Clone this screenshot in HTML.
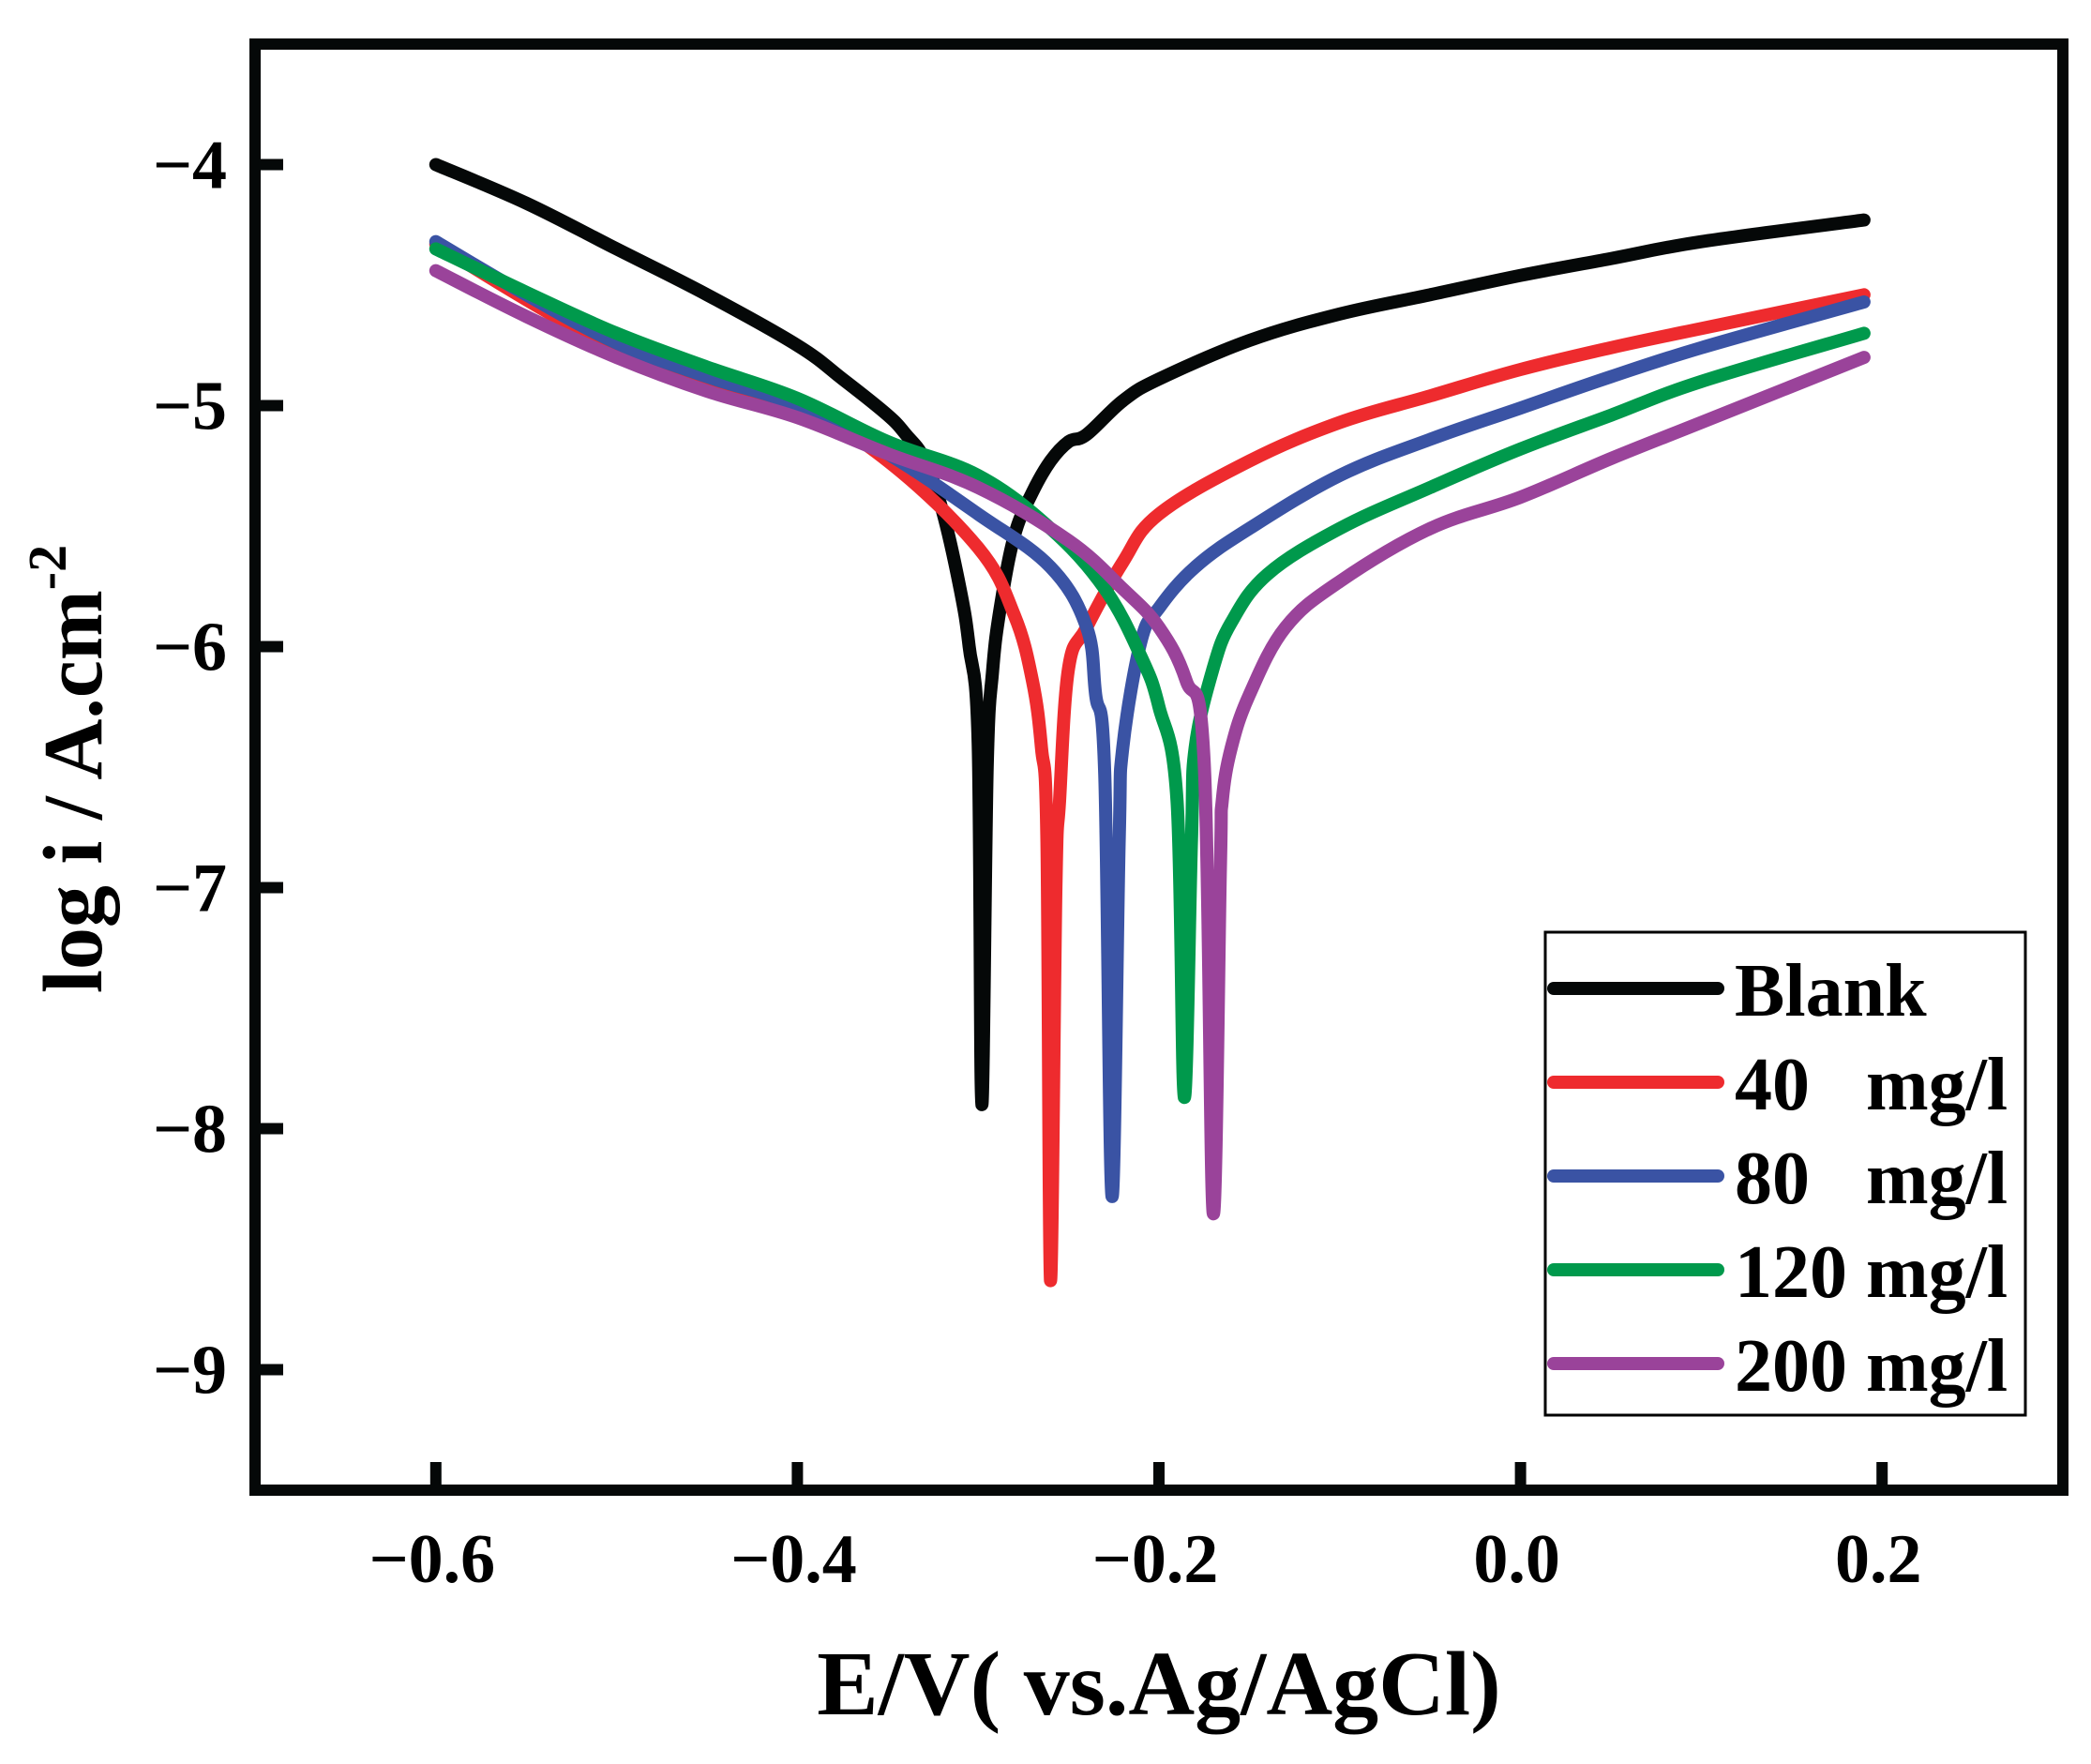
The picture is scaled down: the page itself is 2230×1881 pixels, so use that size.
<!DOCTYPE html>
<html><head><meta charset="utf-8"><style>
html,body{margin:0;padding:0;background:#fff;}
svg{display:block;font-family:"Liberation Serif",serif;font-weight:bold;}
</style></head><body>
<svg id="chart" width="2230" height="1881" viewBox="0 0 2230 1881" xmlns="http://www.w3.org/2000/svg">
<g id="series"></g>
<g id="axes"></g>
<text x="1236" y="1828" font-size="98" text-anchor="middle" fill="#000">E/V( vs.Ag/AgCl)</text>
<text transform="translate(108,820) rotate(-90)" font-size="90" text-anchor="middle" fill="#000">log i / A.cm<tspan dy="-38" font-size="58">-2</tspan></text>
<g id="legend"></g>
</svg>
<script>
const xTicks=[-0.6,-0.4,-0.2,0.0,0.2];
const xTickLabels=["\u22120.6","\u22120.4","\u22120.2","0.0","0.2"];
const yTicks=[-4,-5,-6,-7,-8,-9];
const yTickLabels=["\u22124","\u22125","\u22126","\u22127","\u22128","\u22129"];
const seriesNames=["Blank","40   mg/l","80   mg/l","120 mg/l","200 mg/l"];
const blankE=[-0.6,-0.55,-0.5,-0.45,-0.4,-0.375,-0.35,-0.34,-0.33,-0.32,-0.31,-0.305,-0.30,-0.298,-0.295,-0.292,-0.288,-0.28,-0.27,-0.26,-0.25,-0.24,-0.22,-0.2,-0.15,-0.1,-0.05,0,0.05,0.1,0.19];
const blankI=[-4.0,-4.16,-4.35,-4.54,-4.75,-4.89,-5.04,-5.12,-5.22,-5.43,-5.76,-6.0,-6.4,-7.9,-6.5,-6.1,-5.85,-5.54,-5.36,-5.23,-5.15,-5.12,-4.98,-4.89,-4.73,-4.62,-4.54,-4.46,-4.39,-4.32,-4.23];
const c40E=[-0.6,-0.55,-0.5,-0.45,-0.4,-0.35,-0.3,-0.28,-0.27,-0.265,-0.262,-0.26,-0.257,-0.255,-0.25,-0.24,-0.22,-0.2,-0.15,-0.1,-0.05,0,0.05,0.1,0.19];
const c40I=[-4.33,-4.56,-4.77,-4.92,-5.0,-5.23,-5.59,-5.87,-6.14,-6.42,-6.8,-8.63,-7.0,-6.64,-6.09,-5.92,-5.65,-5.45,-5.23,-5.07,-4.96,-4.85,-4.76,-4.68,-4.54];
const c80E=[-0.6,-0.55,-0.5,-0.45,-0.4,-0.35,-0.3,-0.26,-0.24,-0.235,-0.23,-0.226,-0.222,-0.22,-0.21,-0.2,-0.18,-0.15,-0.1,-0.05,0,0.05,0.1,0.19];
const c80I=[-4.32,-4.54,-4.74,-4.88,-5.0,-5.2,-5.45,-5.67,-5.92,-6.2,-6.53,-8.28,-6.8,-6.42,-5.98,-5.84,-5.67,-5.51,-5.29,-5.14,-5.01,-4.88,-4.76,-4.57];
const c120E=[-0.6,-0.55,-0.5,-0.45,-0.4,-0.35,-0.3,-0.26,-0.23,-0.21,-0.2,-0.19,-0.186,-0.182,-0.18,-0.17,-0.16,-0.14,-0.1,-0.05,0,0.05,0.1,0.19];
const c120I=[-4.35,-4.53,-4.7,-4.84,-4.97,-5.15,-5.29,-5.51,-5.76,-6.04,-6.25,-6.64,-7.87,-6.8,-6.42,-6.09,-5.9,-5.7,-5.51,-5.34,-5.18,-5.04,-4.9,-4.7];
const c200E=[-0.6,-0.55,-0.5,-0.45,-0.4,-0.35,-0.3,-0.25,-0.22,-0.2,-0.185,-0.175,-0.17,-0.166,-0.165,-0.16,-0.15,-0.13,-0.1,-0.05,0,0.05,0.1,0.19];
const c200I=[-4.44,-4.63,-4.8,-4.94,-5.05,-5.2,-5.34,-5.56,-5.76,-5.92,-6.14,-6.48,-8.35,-6.9,-6.64,-6.42,-6.2,-5.92,-5.73,-5.51,-5.38,-5.22,-5.07,-4.8];

const PL=272,PR=2200,PT=47,PB=1589;
const X0=-0.7,X1=0.3,Y0=-9.5,Y1=-3.5;
const sx=v=>PL+(v-X0)/(X1-X0)*(PR-PL);
const sy=v=>PB-(v-Y0)/(Y1-Y0)*(PB-PT);
const NS="http://www.w3.org/2000/svg";
function mk(tag,attrs,parent){const e=document.createElementNS(NS,tag);for(const k in attrs)e.setAttribute(k,attrs[k]);parent.appendChild(e);return e;}
function smoothPath(P){
 let d='M'+P[0][0].toFixed(1)+','+P[0][1].toFixed(1);
 for(let i=0;i<P.length-1;i++){
  const p0=P[i-1]||P[i],p1=P[i],p2=P[i+1],p3=P[i+2]||P[i+1];
  const t=0.18;
  const c1=[p1[0]+(p2[0]-p0[0])*t,p1[1]+(p2[1]-p0[1])*t];
  const c2=[p2[0]-(p3[0]-p1[0])*t,p2[1]-(p3[1]-p1[1])*t];
  d+=' C'+c1[0].toFixed(1)+','+c1[1].toFixed(1)+' '+c2[0].toFixed(1)+','+c2[1].toFixed(1)+' '+p2[0].toFixed(1)+','+p2[1].toFixed(1);
 }
 return d;
}

const series=[[blankE,blankI,"#050808"],[c40E,c40I,"#ee2b2e"],[c80E,c80I,"#3a53a4"],[c120E,c120I,"#00994c"],[c200E,c200I,"#9a439a"]];
const sg=document.getElementById('series');
[0,1,2,3,4].forEach(i=>{const [E,I,c]=series[i];
 const pts=E.map((e,k)=>[sx(e),sy(I[k])]);
 const p=mk('path',{d:smoothPath(pts),fill:'none',stroke:c,'stroke-width':14,'stroke-linejoin':'round','stroke-linecap':'round'},sg);
 
 
});

const ag=document.getElementById('axes');
const fr=mk('rect',{x:PL,y:PT,width:PR-PL,height:PB-PT,fill:'none',stroke:'#050808','stroke-width':12},ag);


xTicks.forEach((v,i)=>{
 const t=mk('line',{x1:sx(v),x2:sx(v),y1:PB,y2:PB-30,stroke:'#050808','stroke-width':12},ag);
 
 
 const l=mk('text',{x:sx(v)-4,y:PB+98,'font-size':74,'text-anchor':'middle',fill:'#000'},ag);
 l.textContent=xTickLabels[i];
 
 
});
yTicks.forEach((v,i)=>{
 const t=mk('line',{x1:PL,x2:PL+30,y1:sy(v),y2:sy(v),stroke:'#050808','stroke-width':12},ag);
 
 
 const l=mk('text',{x:PL-30,y:sy(v)+25,'font-size':74,'text-anchor':'end',fill:'#000'},ag);
 l.textContent=yTickLabels[i];
 
 
});

const lg=document.getElementById('legend');
const box=mk('rect',{x:1648,y:994,width:512,height:515,fill:'#fff',stroke:'#000','stroke-width':3},lg);


seriesNames.forEach((n,i)=>{
 const y=1054+i*100;
 const ln=mk('line',{x1:1657,x2:1832,y1:y,y2:y,stroke:series[i][2],'stroke-width':14,'stroke-linecap':'round'},lg);
 
 
 const tx=mk('text',{x:1850,y:y+29,'font-size':80,fill:'#000'},lg);
 tx.setAttribute('style','white-space:pre');
 tx.textContent=n;
 
 
});
</script>
</body></html>
